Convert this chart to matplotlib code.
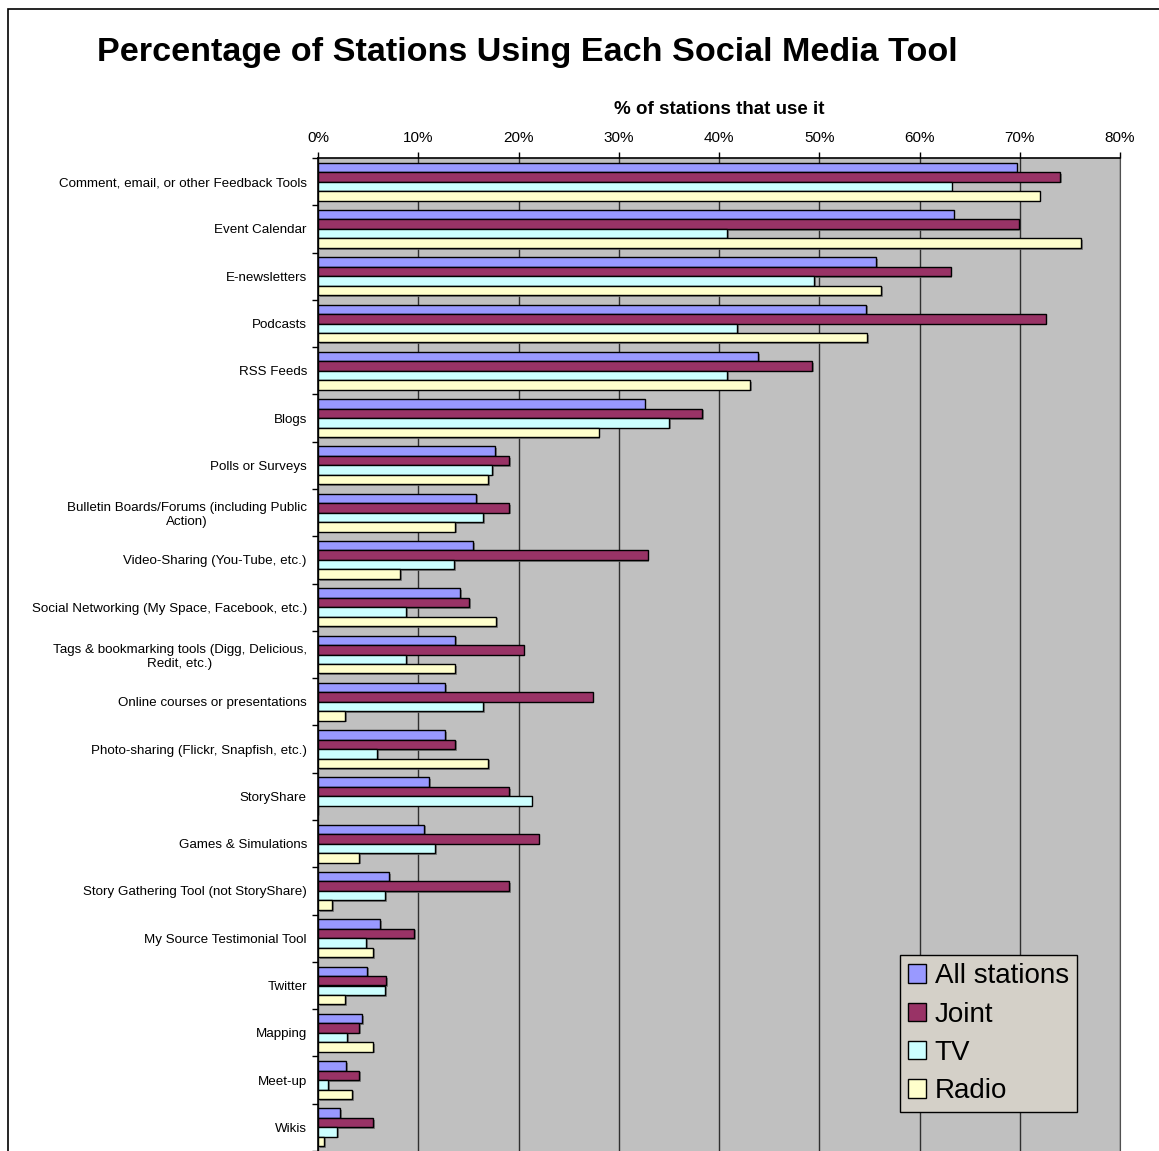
import numpy as np
import matplotlib
matplotlib.use('Agg')
import matplotlib.pyplot as plt
import matplotlib.patheffects as pe
from matplotlib.patches import Rectangle

plt.rcParams['font.family'] = ['Liberation Sans', 'DejaVu Sans']

# Donnees (en %)
outils = [
    'Comment, email, or other Feedback Tools',
    'Event Calendar',
    'E-newsletters',
    'Podcasts',
    'RSS Feeds',
    'Blogs',
    'Polls or Surveys',
    'Bulletin Boards/Forums (including Public\nAction)',
    'Video-Sharing (You-Tube, etc.)',
    'Social Networking (My Space, Facebook, etc.)',
    'Tags & bookmarking tools (Digg, Delicious,\nRedit, etc.)',
    'Online courses or presentations',
    'Photo-sharing (Flickr, Snapfish, etc.)',
    'StoryShare',
    'Games & Simulations',
    'Story Gathering Tool (not StoryShare)',
    'My Source Testimonial Tool',
    'Twitter',
    'Mapping',
    'Meet-up',
    'Wikis',
]

all_stations = [69.7, 63.4, 55.7, 54.7, 43.9, 32.6, 17.7, 15.8, 15.5, 14.2,
                13.7, 12.7, 12.7, 11.1, 10.6, 7.1, 6.2, 4.9, 4.4, 2.8, 2.2]
joint = [74.0, 69.9, 63.1, 72.6, 49.3, 38.3, 19.1, 19.1, 32.9, 15.1,
         20.5, 27.4, 13.7, 19.1, 22.0, 19.1, 9.6, 6.8, 4.1, 4.1, 5.5]
tv = [63.2, 40.8, 49.5, 41.8, 40.8, 35.0, 17.4, 16.5, 13.6, 8.8,
      8.8, 16.5, 5.9, 21.3, 11.7, 6.7, 4.8, 6.7, 2.9, 1.0, 1.9]
radio = [72.0, 76.1, 56.2, 54.8, 43.1, 28.0, 17.0, 13.7, 8.2, 17.8,
         13.7, 2.7, 17.0, 0.0, 4.1, 1.4, 5.5, 2.7, 5.5, 3.4, 0.6]

series = [('All stations', all_stations, '#9999FF'),
          ('Joint', joint, '#993366'),
          ('TV', tv, '#CCFFFF'),
          ('Radio', radio, '#FFFFCC')]

W, H = 1159, 1151
fig = plt.figure(figsize=(W / 100, H / 100), dpi=100)

#Cadre de la figure (bords gauche et haut visibles)
fig.patches.append(Rectangle((8 / W, -0.1), 1.2, 1 - 9 / H + 0.1,
                             transform=fig.transFigure, fill=False,
                             edgecolor='black', linewidth=1.2))

#Zone du graphique
ax = fig.add_axes([318 / W, 0.0, (1120 - 318) / W, 1 - 158 / H])
ax.set_facecolor('#C0C0C0')

n = len(outils)
y = np.arange(n)
h = 0.2
ombre = [pe.SimplePatchShadow(offset=(1.2, -1.2), shadow_rgbFace='#707070', alpha=0.8),
         pe.Normal()]
for i, (nom, vals, couleur) in enumerate(series):
    barres = ax.barh(y + (i - 1.5) * h, vals, height=h, color=couleur,
                     edgecolor='black', linewidth=1.0, label=nom, zorder=3)
    for b in barres:
        b.set_path_effects(ombre)

ax.set_xlim(0, 80)
ax.set_ylim(n - 0.5, -0.5)
ax.set_xticks(np.arange(0, 81, 10))
ax.set_xticklabels([f'{v}%' for v in range(0, 81, 10)], fontsize=11)
ax.xaxis.tick_top()
ax.tick_params(axis='x', direction='out', length=4, width=1, pad=5)
ax.grid(axis='x', color='#303030', linewidth=1, zorder=1)

ax.set_yticks(y)
ax.set_yticklabels(outils, fontsize=9.6, multialignment='center')
ax.set_yticks(np.arange(-0.5, n, 1), minor=True)
ax.tick_params(axis='y', which='major', length=0, pad=8)
ax.tick_params(axis='y', which='minor', direction='out', length=4, width=1)

for cote in ['top', 'left']:
    ax.spines[cote].set_color('black')
    ax.spines[cote].set_linewidth(1.2)
ax.spines['right'].set_color('#505050')
ax.spines['bottom'].set_visible(False)

#Titres
fig.text(527 / W, 1 - 53 / H, 'Percentage of Stations Using Each Social Media Tool',
         fontsize=24.6, fontweight='bold', ha='center', va='center')
fig.text(719 / W, 1 - 109 / H, '% of stations that use it',
         fontsize=13.5, fontweight='bold', ha='center', va='center')

#Legende
leg = ax.legend(loc='upper left', bbox_to_anchor=(900 / W, 1 - 955 / H),
                bbox_transform=fig.transFigure, fontsize=20, fancybox=False,
                framealpha=1, facecolor='#D4D0C8', edgecolor='black',
                handlelength=0.65, handleheight=0.65, handletextpad=0.3,
                labelspacing=0.44, borderpad=0.3, borderaxespad=0)
leg.get_frame().set_linewidth(1.0)
for p in leg.get_patches():
    p.set_path_effects([])

fig.savefig('out.png', dpi=100)
